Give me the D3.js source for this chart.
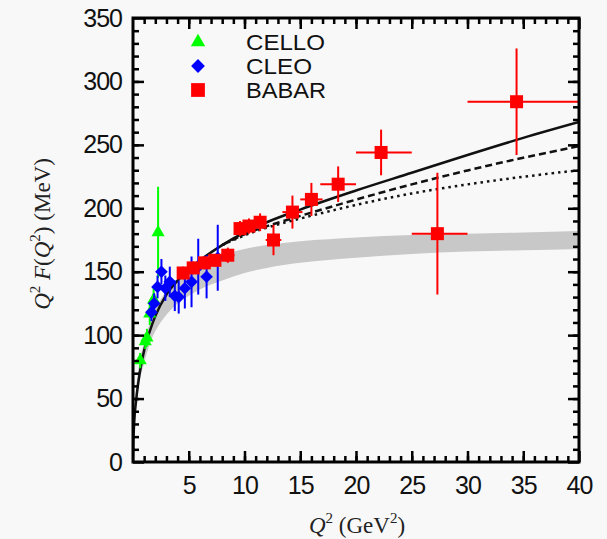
<!DOCTYPE html>
<html>
<head>
<meta charset="utf-8">
<script src="https://d3js.org/d3.v7.min.js"></script>
<style>
  body { margin: 0; background: #f8f8f8; }
  svg { display: block; }
  .tick text { font-family: "Liberation Sans", Arial, sans-serif; font-size: 25px; fill: #111; }
  .ttl { font-family: "Liberation Serif", "Times New Roman", serif; font-size: 23px; fill: #222; }
  .leg { font-family: "Liberation Sans", Arial, sans-serif; font-size: 22px; fill: #111; }
</style>
</head>
<body>
<script>
// CELLO: [Q2, value, yerr]
var cello = [[0.65, 80, 6], [1.1, 95, 6], [1.25, 98, 7], [1.5, 117, 9], [1.85, 128, 10], [2.25, 181, 36]];
// CLEO: [Q2, value, yerr]
var cleo = [[1.65, 118, 7], [1.9, 125, 8], [2.2, 138, 9], [2.55, 150, 10], [2.9, 137, 10], [3.3, 142, 12],
            [3.75, 131, 12], [4.1, 130, 13], [4.65, 137, 16], [5.25, 142, 20], [5.85, 154, 22], [6.6, 146, 17], [7.6, 161, 26]];
// BABAR: [Q2, value, bin low, bin high, yerr]
var babar = [[4.5, 149, 4.0, 5.0, 5], [5.4, 153, 4.9, 5.9, 5], [6.4, 157, 5.9, 6.9, 5], [7.35, 159, 6.85, 7.85, 5],
             [8.5, 163, 7.9, 9.1, 6], [9.6, 184, 9.1, 10.1, 6], [10.4, 186, 9.9, 10.9, 6], [11.4, 189, 10.8, 12.0, 7],
             [12.6, 175, 11.9, 13.3, 12], [14.3, 197, 13.4, 15.2, 13], [16.0, 207, 15.0, 17.0, 13],
             [18.4, 219, 16.8, 20.0, 14], [22.25, 244, 20.0, 25.0, 18], [27.3, 180, 25.0, 30.0, 48], [34.4, 284, 30.0, 40.0, 42]];

// theory curves
var solid = [[0, 0], [0.03, 15], [0.1, 30], [0.3, 50], [0.6, 70], [1, 88], [1.5, 103], [2, 115], [3, 132], [4, 143],
             [5, 152], [6, 159], [8, 171], [10, 181], [12, 189], [15, 199], [20, 214], [25, 228], [30, 242], [35, 255.5], [40, 268]];
var dashed = [[8, 171], [10, 180], [12, 186], [15, 194], [20, 207], [25, 219], [30, 230], [35, 240], [40, 249]];
var dotted = [[8, 171], [10, 179], [12, 185], [15, 192], [20, 203], [25, 212], [30, 219], [35, 225], [40, 230]];

// grey band
var bandQ2 = [0.05, 0.1, 0.5, 1, 1.5, 2, 3, 4, 5, 6, 8, 10, 12, 15, 20, 25, 30, 35, 40];
var bandLo = [8, 22, 58, 78, 93, 103, 116, 125, 131, 136, 143, 149, 153, 157, 161, 164, 166, 167, 168];
var bandHi = [18, 34, 74, 94, 109, 120, 135, 144, 150, 155, 163, 168, 171, 174, 177, 179, 180, 181, 182];

var xMajor = [5, 10, 15, 20, 25, 30, 35, 40];
var yMajor = [0, 50, 100, 150, 200, 250, 300, 350];

var W = 607, H = 539;
var L = 133, R = 579, T = 18, B = 462;

var svg = d3.select("body").append("svg").attr("width", W).attr("height", H);

var x = d3.scaleLinear().domain([0, 40]).range([L, R]);
var y = d3.scaleLinear().domain([0, 350]).range([B, T]);

svg.append("clipPath").attr("id", "clip")
  .append("rect").attr("x", L).attr("y", T).attr("width", R - L).attr("height", B - T);

var plot = svg.append("g").attr("clip-path", "url(#clip)");

// band
var band = bandQ2.map(function(q, i) { return { q: q, lo: bandLo[i], hi: bandHi[i] }; });
plot.append("path").datum(band)
  .attr("fill", "#c8c8c8")
  .attr("d", d3.area().curve(d3.curveMonotoneX)
    .x(function(d) { return x(d.q); }).y0(function(d) { return y(d.lo); }).y1(function(d) { return y(d.hi); }));

// curves
var line = d3.line().curve(d3.curveBasis).x(function(d) { return x(d[0]); }).y(function(d) { return y(d[1]); });
var lineLow = d3.line().curve(d3.curveMonotoneX).x(function(d) { return x(d[0]); }).y(function(d) { return y(d[1]); });
plot.append("path").datum(dotted).attr("fill", "none").attr("stroke", "#111").attr("stroke-width", 2.5)
  .attr("stroke-dasharray", "2.5,4").attr("d", line);
plot.append("path").datum(dashed).attr("fill", "none").attr("stroke", "#111").attr("stroke-width", 2.5)
  .attr("stroke-dasharray", "7,4").attr("d", line);
plot.append("path").datum(solid).attr("fill", "none").attr("stroke", "#111").attr("stroke-width", 2.5).attr("d", lineLow);

// CELLO
plot.selectAll(".ce").data(cello).enter().append("line")
  .attr("x1", function(d) { return x(d[0]); }).attr("x2", function(d) { return x(d[0]); })
  .attr("y1", function(d) { return y(d[1] - d[2]); }).attr("y2", function(d) { return y(d[1] + d[2]); })
  .attr("stroke", "#00ff00").attr("stroke-width", 2);
plot.selectAll(".cp").data(cello).enter().append("path")
  .attr("transform", function(d) { return "translate(" + x(d[0]) + "," + y(d[1]) + ")"; })
  .attr("d", d3.symbol().type(d3.symbolTriangle).size(75))
  .attr("fill", "#00ff00");

// CLEO
plot.selectAll(".cl").data(cleo).enter().append("line")
  .attr("x1", function(d) { return x(d[0]); }).attr("x2", function(d) { return x(d[0]); })
  .attr("y1", function(d) { return y(d[1] - d[2]); }).attr("y2", function(d) { return y(d[1] + d[2]); })
  .attr("stroke", "#0000ff").attr("stroke-width", 2);
plot.selectAll(".cd").data(cleo).enter().append("path")
  .attr("transform", function(d) { return "translate(" + x(d[0]) + "," + y(d[1]) + ") rotate(45)"; })
  .attr("d", d3.symbol().type(d3.symbolSquare).size(80))
  .attr("fill", "#0000ff");

// BABAR
plot.selectAll(".bv").data(babar).enter().append("line")
  .attr("x1", function(d) { return x(d[0]); }).attr("x2", function(d) { return x(d[0]); })
  .attr("y1", function(d) { return y(d[1] - d[4]); }).attr("y2", function(d) { return y(d[1] + d[4]); })
  .attr("stroke", "#ff0000").attr("stroke-width", 2);
plot.selectAll(".bh").data(babar).enter().append("line")
  .attr("x1", function(d) { return x(d[2]); }).attr("x2", function(d) { return x(d[3]); })
  .attr("y1", function(d) { return y(d[1]); }).attr("y2", function(d) { return y(d[1]); })
  .attr("stroke", "#ff0000").attr("stroke-width", 2);
plot.selectAll(".bs").data(babar).enter().append("rect")
  .attr("x", function(d) { return x(d[0]) - 6.5; }).attr("y", function(d) { return y(d[1]) - 6.5; })
  .attr("width", 13).attr("height", 13).attr("fill", "#ff0000");

// axes, ticks pointing inward on all four sides
function styleAxis(g) {
  g.select(".domain").remove();
  g.selectAll(".tick line").attr("stroke", "#000").attr("stroke-width", 2.5);
}
var xMinor = d3.range(1, 40), yMinor = d3.range(10, 350, 10);

svg.append("g").attr("transform", "translate(0," + B + ")")
  .call(d3.axisBottom(x).tickValues(xMinor).tickSize(-6).tickFormat("")).call(styleAxis);
svg.append("g").attr("transform", "translate(0," + B + ")")
  .call(d3.axisBottom(x).tickValues(xMajor).tickSize(-11).tickPadding(14).tickFormat(d3.format("d"))).call(styleAxis);
svg.append("g").attr("transform", "translate(0," + T + ")")
  .call(d3.axisTop(x).tickValues(xMinor).tickSize(-6).tickFormat("")).call(styleAxis);
svg.append("g").attr("transform", "translate(0," + T + ")")
  .call(d3.axisTop(x).tickValues(xMajor).tickSize(-11).tickFormat("")).call(styleAxis);

svg.append("g").attr("transform", "translate(" + L + ",0)")
  .call(d3.axisLeft(y).tickValues(yMinor).tickSize(-6).tickFormat("")).call(styleAxis);
svg.append("g").attr("transform", "translate(" + L + ",0)")
  .call(d3.axisLeft(y).tickValues(yMajor).tickSize(-11).tickPadding(11).tickFormat(d3.format("d"))).call(styleAxis);
svg.append("g").attr("transform", "translate(" + R + ",0)")
  .call(d3.axisRight(y).tickValues(yMinor).tickSize(-6).tickFormat("")).call(styleAxis);
svg.append("g").attr("transform", "translate(" + R + ",0)")
  .call(d3.axisRight(y).tickValues(yMajor).tickSize(-11).tickFormat("")).call(styleAxis);

svg.selectAll(".tick text").attr("letter-spacing", "-1px");

svg.append("rect").attr("x", L).attr("y", T).attr("width", R - L).attr("height", B - T)
  .attr("fill", "none").attr("stroke", "#000").attr("stroke-width", 3);

// legend
var legend = [["CELLO", "#00ff00", d3.symbolTriangle, 0], ["CLEO", "#0000ff", d3.symbolSquare, 45], ["BABAR", "#ff0000", d3.symbolSquare, 0]];
legend.forEach(function(d, i) {
  var cy = 42 + i * 24;
  svg.append("path").attr("transform", "translate(198," + cy + ") rotate(" + d[3] + ")")
    .attr("d", d3.symbol().type(d[2]).size(i === 2 ? 190 : (i === 1 ? 95 : 90))).attr("fill", d[1]);
  svg.append("text").attr("class", "leg").attr("x", 246).attr("y", cy + 8)
    .attr("textLength", [79, 66, 80][i]).attr("lengthAdjust", "spacingAndGlyphs").text(d[0]);
});

// titles
var xt = svg.append("text").attr("class", "ttl").attr("x", 357).attr("y", 533).attr("text-anchor", "middle");
xt.append("tspan").attr("font-style", "italic").text("Q");
xt.append("tspan").attr("dy", -10).attr("font-size", 15).text("2");
xt.append("tspan").attr("dy", 10).text(" (GeV");
xt.append("tspan").attr("dy", -10).attr("font-size", 15).text("2");
xt.append("tspan").attr("dy", 10).text(")");

var yt = svg.append("text").attr("class", "ttl").attr("transform", "translate(50,234) rotate(-90)").attr("text-anchor", "middle");
yt.append("tspan").attr("font-style", "italic").text("Q");
yt.append("tspan").attr("dy", -10).attr("font-size", 15).text("2");
yt.append("tspan").attr("dy", 10).attr("font-style", "italic").text(" F");
yt.append("tspan").text("(");
yt.append("tspan").attr("font-style", "italic").text("Q");
yt.append("tspan").attr("dy", -10).attr("font-size", 15).text("2");
yt.append("tspan").attr("dy", 10).text(") (MeV)");
</script>
</body>
</html>
